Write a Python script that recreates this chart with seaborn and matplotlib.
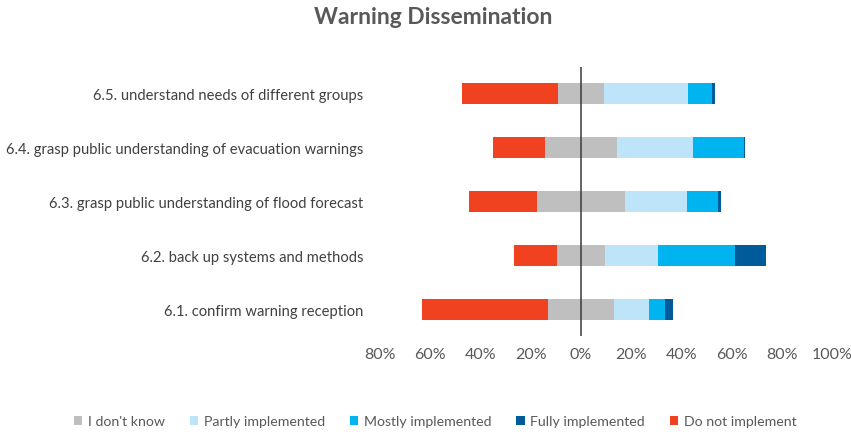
import numpy as np
import pandas as pd
import matplotlib
matplotlib.use("Agg")
import matplotlib.pyplot as plt
import seaborn as sns
from matplotlib.patches import Patch
from matplotlib.ticker import FixedLocator, FuncFormatter

sns.set_theme(style="white")
plt.rcParams['font.family'] = ['Lato', 'DejaVu Sans']

# categories top to bottom
categories = [
    "6.5. understand needs of different groups",
    "6.4. grasp public understanding of evacuation warnings",
    "6.3. grasp public understanding of flood forecast",
    "6.2. back up systems and methods",
    "6.1. confirm warning reception",
]
dont_know = [18.6, 28.7, 35.0, 19.3, 26.5]
partly = [33.5, 30.2, 24.6, 20.9, 13.7]
mostly = [9.3, 20.3, 12.7, 30.7, 6.7]
fully = [1.2, 0.7, 1.1, 12.3, 3.2]
not_impl = [37.9, 20.8, 26.9, 17.0, 50.0]

series_names = ["I don't know", "Partly implemented", "Mostly implemented",
                "Fully implemented", "Do not implement"]
colors = {
    "I don't know": "#BFBFBF",
    "Partly implemented": "#BDE4F8",
    "Mostly implemented": "#00B4F0",
    "Fully implemented": "#005B9A",
    "Do not implement": "#F04220",
}
text_grey = "#595959"

df = pd.DataFrame({
    "cat": categories,
    "dk": dont_know, "partly": partly, "mostly": mostly,
    "fully": fully, "not": not_impl,
})
half = df["dk"] / 2
df["pos_dk"] = half
df["pos_partly"] = half + df["partly"]
df["pos_mostly"] = df["pos_partly"] + df["mostly"]
df["pos_fully"] = df["pos_mostly"] + df["fully"]
df["neg_dk"] = -half
df["neg_not"] = -half - df["not"]

fig = plt.figure(figsize=(8.51, 4.35), dpi=100)
ax = fig.add_axes([380 / 851, 1 - 337 / 435, (832 - 380) / 851, (337 - 68) / 435])

bar_h = 0.39
layers = [
    ("pos_fully", "Fully implemented"),
    ("pos_mostly", "Mostly implemented"),
    ("pos_partly", "Partly implemented"),
    ("pos_dk", "I don't know"),
    ("neg_not", "Do not implement"),
    ("neg_dk", "I don't know"),
]
for col, name in layers:
    sns.barplot(data=df, x=col, y="cat", order=categories, orient="y",
                color=colors[name], saturation=1, width=bar_h, ax=ax,
                linewidth=0, errorbar=None)

ax.set_xlim(-80, 100)
ax.set_ylim(4.5, -0.5)
ax.xaxis.set_major_locator(FixedLocator(np.arange(-80, 101, 20)))
ax.xaxis.set_major_formatter(FuncFormatter(lambda v, p: f"{abs(int(round(v)))}%"))
ax.axvline(0, color="#3a3a3a", lw=1.1, zorder=5)
for s in ax.spines.values():
    s.set_visible(False)
ax.set_xlabel("")
ax.set_ylabel("")
ax.tick_params(axis="x", length=0, pad=8, labelsize=11.5, labelcolor=text_grey)
ax.tick_params(axis="y", length=0, pad=12, labelsize=10.6, labelcolor="#404040")
ax.grid(False)

fig.text(433 / 851, 1 - 18 / 435, "Warning Dissemination", ha="center", va="center",
         fontsize=16.5, fontweight="bold", color=text_grey)

handles = [Patch(facecolor=colors[n], edgecolor="none", label=n) for n in series_names]
fig.legend(handles=handles, loc="center", bbox_to_anchor=(435 / 851, 1 - 422 / 435),
           ncol=5, frameon=False, fontsize=10.2, handlelength=0.6, handleheight=0.6,
           handletextpad=0.4, columnspacing=1.75, labelcolor=text_grey)

fig.savefig("out.png", dpi=100)
